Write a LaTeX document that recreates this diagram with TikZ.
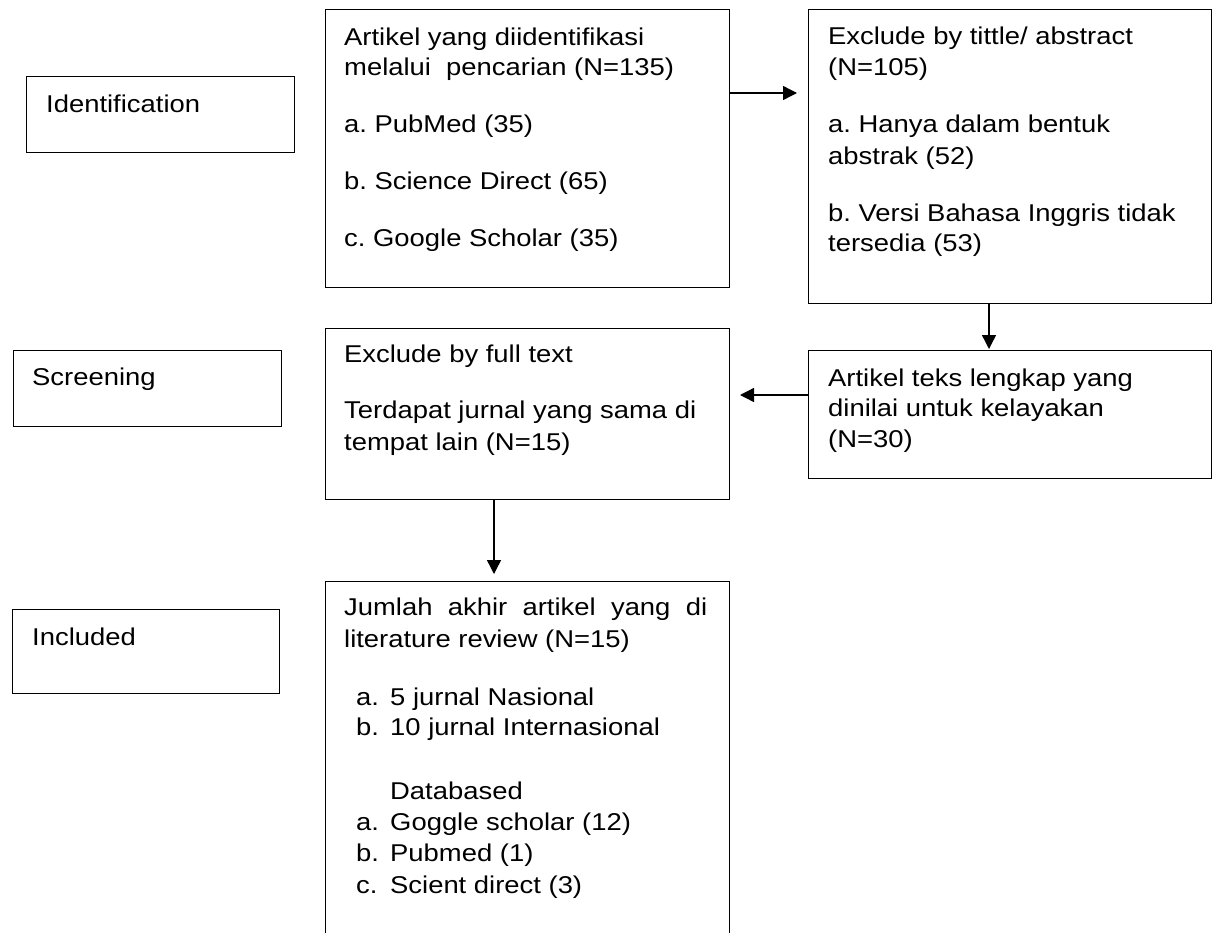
\documentclass[tikz,border=0pt]{standalone}
\usepackage{fontspec}
\setmainfont{Liberation Sans}[FakeStretch=1.128]
\usetikzlibrary{arrows.meta}
\frenchspacing
\tikzset{
  box/.style={draw=black, line width=1.4pt, rectangle, inner sep=0pt, anchor=north west},
  txt/.style={inner sep=0pt, anchor=base west, font=\fontsize{24.3}{28}\selectfont},
  arr/.style={line width=1.4pt, -{Triangle[length=14pt,width=14pt]}}
}
\newcommand{\lbl}[1]{\makebox[34pt][l]{#1}}
\begin{document}
\begin{tikzpicture}[x=1pt,y=-1pt]
\useasboundingbox (0,0) rectangle (1215,932);
\clip (0,0) rectangle (1215,932);
\fill[white] (0,0) rectangle (1215,932);
% stage boxes
\node[box, minimum width=268pt, minimum height=76pt] (ident) at (26,76) {};
\node[box, minimum width=268pt, minimum height=76pt] (screen) at (13,350) {};
\node[box, minimum width=267pt, minimum height=84pt] (incl) at (12,609) {};
\node[txt] (tident) at (46,112) {Identification};
\node[txt] (tscreen) at (32,385) {Screening};
\node[txt] (tincl) at (32,645) {Included};
% flow boxes
\node[box, minimum width=404pt, minimum height=278pt] (box1) at (325,9) {};
\node[box, minimum width=403pt, minimum height=294pt] (box2) at (808,9) {};
\node[box, minimum width=403pt, minimum height=128pt] (box3) at (808,350) {};
\node[box, minimum width=404pt, minimum height=171pt] (box4) at (325,328) {};
\node[box, minimum width=404pt, minimum height=380pt] (box5) at (325,581) {};
% box1 text
\node[txt] (b1a) at (344,45) {Artikel yang diidentifikasi};
\node[txt] (b1b) at (344,75) {melalui\ \ pencarian (N=135)};
\node[txt] (b1c) at (344,132.5) {a. PubMed (35)};
\node[txt] (b1d) at (344,189) {b. Science Direct (65)};
\node[txt] (b1e) at (344,246.7) {c. Google Scholar (35)};
% box2 text
\node[txt] (b2a) at (828,44.3) {Exclude by tittle/ abstract};
\node[txt] (b2b) at (828,75.5) {(N=105)};
\node[txt] (b2c) at (828,132.5) {a. Hanya dalam bentuk};
\node[txt] (b2d) at (828,164.3) {abstrak (52)};
\node[txt] (b2e) at (828,221.7) {b. Versi Bahasa Inggris tidak};
\node[txt] (b2f) at (828,251.7) {tersedia (53)};
% box3 text
\node[txt] (b3a) at (828,386.7) {Artikel teks lengkap yang};
\node[txt] (b3b) at (828,416.7) {dinilai untuk kelayakan};
\node[txt] (b3c) at (828,447.7) {(N=30)};
% box4 text
\node[txt] (b4a) at (344,362.3) {Exclude by full text};
\node[txt] (b4b) at (344,418.3) {Terdapat jurnal yang sama di};
\node[txt] (b4c) at (344,450) {tempat lain (N=15)};
% box5 text
\node[txt] (b5a) at (344,615) {\makebox[363pt][s]{Jumlah akhir artikel yang di}};
\node[txt] (b5b) at (344,647.3) {literature review (N=15)};
\node[txt] (b5c) at (356,705) {\lbl{a.}5 jurnal Nasional};
\node[txt] (b5d) at (356,735.7) {\lbl{b.}10 jurnal Internasional};
\node[txt] (b5e) at (390,799) {Databased};
\node[txt] (b5f) at (356,830) {\lbl{a.}Goggle scholar (12)};
\node[txt] (b5g) at (356,861.7) {\lbl{b.}Pubmed (1)};
\node[txt] (b5h) at (356,893.3) {\lbl{c.}Scient direct (3)};
% connectors
\coordinate (t1) at (797,93);
\coordinate (t2) at (989,349);
\coordinate (t3) at (740,395);
\coordinate (t4) at (494,574);
\draw[arr] (box1.east |- t1) -- (t1);
\draw[arr] (box2.south -| t2) -- (t2);
\draw[arr] (box3.west |- t3) -- (t3);
\draw[arr] (box4.south -| t4) -- (t4);
\end{tikzpicture}
\end{document}
